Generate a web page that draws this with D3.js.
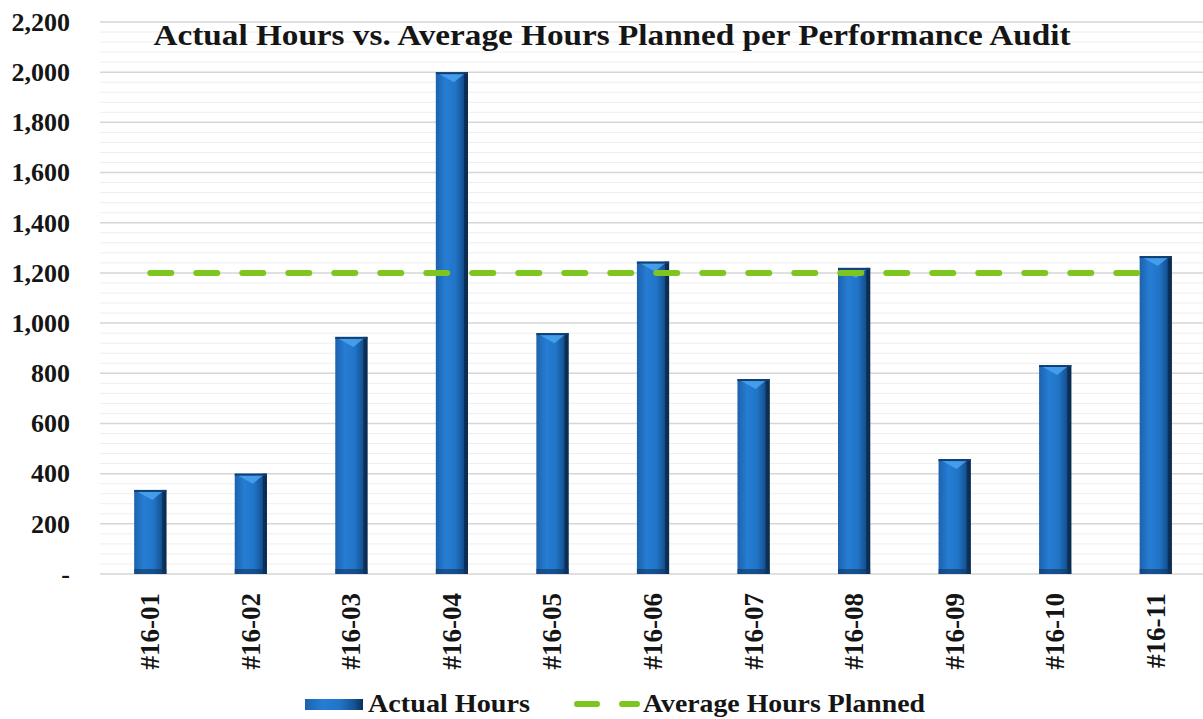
<!DOCTYPE html>
<html>
<head>
<meta charset="utf-8">
<script src="https://cdnjs.cloudflare.com/ajax/libs/d3/7.8.5/d3.min.js"></script>
<style>
  body { margin: 0; background: #fff; }
  text { font-family: "Liberation Serif", "DejaVu Serif Condensed", "DejaVu Serif", serif; font-weight: bold; fill: #151515; }
</style>
</head>
<body>
<script>
var categories = ["#16-01", "#16-02", "#16-03", "#16-04", "#16-05", "#16-06",
                  "#16-07", "#16-08", "#16-09", "#16-10", "#16-11"];
var actualHours = [335, 400, 945, 2000, 960, 1245, 777, 1220, 458, 833, 1267];
var averagePlanned = [1200, 1200, 1200, 1200, 1200, 1200, 1200, 1200, 1200, 1200, 1200];
var yTicks = [0, 200, 400, 600, 800, 1000, 1200, 1400, 1600, 1800, 2000, 2200];

var width = 1203, height = 719;
var margin = {top: 22, left: 100, right: -3, bottom: 145};
var plotW = width - margin.left - margin.right;
var plotH = height - margin.top - margin.bottom;

var svg = d3.select("body").append("svg")
            .attr("width", width)
            .attr("height", height);

var defs = svg.append("defs");
var grad = defs.append("linearGradient").attr("id", "barGrad")
               .attr("x1", "0%").attr("x2", "100%").attr("y1", "0%").attr("y2", "0%");
grad.append("stop").attr("offset", "0%").attr("stop-color", "#1c62ad");
grad.append("stop").attr("offset", "30%").attr("stop-color", "#267dd3");
grad.append("stop").attr("offset", "60%").attr("stop-color", "#2175c8");
grad.append("stop").attr("offset", "85%").attr("stop-color", "#155394");
grad.append("stop").attr("offset", "100%").attr("stop-color", "#0a2f57");

var g = svg.append("g").attr("transform", "translate(" + margin.left + "," + margin.top + ")");

var x = d3.scaleBand().domain(categories).range([0, plotW]).paddingInner(0.68).paddingOuter(0.34);
var y = d3.scaleLinear().domain([0, 2200]).range([plotH, 0]);

// minor gridlines every 40
var minor = d3.range(0, 2200, 40).filter(function(v) { return v % 200 !== 0; });
g.selectAll("line.minor").data(minor).enter().append("line")
  .attr("class", "minor")
  .attr("x1", 0).attr("x2", plotW)
  .attr("y1", function(d) { return y(d); }).attr("y2", function(d) { return y(d); })
  .attr("stroke", "#eeeeee").attr("stroke-width", 1);

g.selectAll("line.major").data(yTicks).enter().append("line")
  .attr("class", "major")
  .attr("x1", 0).attr("x2", plotW)
  .attr("y1", function(d) { return y(d); }).attr("y2", function(d) { return y(d); })
  .attr("stroke", "#d6d6d6").attr("stroke-width", 1.5);

// y axis labels
var fmt = d3.format(",");
var yAxis = d3.axisLeft(y).tickValues(yTicks).tickSize(0).tickPadding(30)
              .tickFormat(function(d) { return d === 0 ? "-" : fmt(d); });
var ya = g.append("g").call(yAxis);
ya.select(".domain").remove();
ya.attr("font-family", null);
ya.selectAll("text").style("font-size", "26px").attr("fill", "#151515").attr("dy", "0.32em");

// bars
var bars = g.selectAll("g.bar").data(categories).enter().append("g").attr("class", "bar");
bars.append("rect")
  .attr("x", function(d) { return x(d); })
  .attr("y", function(d, i) { return y(actualHours[i]); })
  .attr("width", x.bandwidth())
  .attr("height", function(d, i) { return plotH - y(actualHours[i]); })
  .attr("fill", "url(#barGrad)");
// right dark edge
bars.append("rect")
  .attr("x", function(d) { return x(d) + x.bandwidth() - 4; })
  .attr("y", function(d, i) { return y(actualHours[i]); })
  .attr("width", 4)
  .attr("height", function(d, i) { return plotH - y(actualHours[i]); })
  .attr("fill", "#0b2a4d").attr("opacity", 0.8);
// top bevel
bars.append("path")
  .attr("d", function(d, i) {
    var x0 = x(d), w = x.bandwidth(), t = y(actualHours[i]);
    return "M" + (x0 + 2) + "," + (t + 1) + "L" + (x0 + w - 3) + "," + (t + 1) +
           "L" + (x0 + w / 2 + 2) + "," + (t + 10) + "Z";
  })
  .attr("fill", "#4aa3f0").attr("opacity", 0.85);
bars.append("rect")
  .attr("x", function(d) { return x(d); })
  .attr("y", function(d, i) { return y(actualHours[i]); })
  .attr("width", x.bandwidth()).attr("height", 2)
  .attr("fill", "#0f3f75");
// bottom shading
bars.append("rect")
  .attr("x", function(d) { return x(d); })
  .attr("y", plotH - 5)
  .attr("width", x.bandwidth()).attr("height", 5)
  .attr("fill", "#0d3766").attr("opacity", 0.6);

// average line
var line = d3.line()
  .x(function(d, i) { return x(categories[i]) + x.bandwidth() / 2; })
  .y(function(d) { return y(d); });
g.append("path").datum(averagePlanned)
  .attr("d", line)
  .attr("fill", "none")
  .attr("stroke", "#7ec51f")
  .attr("stroke-width", 6)
  .attr("stroke-linecap", "round")
  .attr("stroke-dasharray", "21,25");

// x labels
g.selectAll("text.xl").data(categories).enter().append("text")
  .attr("class", "xl")
  .attr("transform", function(d) {
    return "translate(" + (x(d) + x.bandwidth() / 2 + 9) + "," + (plotH + 19) + ") rotate(-90)";
  })
  .attr("text-anchor", "end")
  .style("font-size", "27px")
  .text(function(d) { return d; });

// title
svg.append("text")
  .attr("x", 612).attr("y", 45)
  .attr("text-anchor", "middle")
  .style("font-size", "30px")
  .attr("textLength", 917).attr("lengthAdjust", "spacingAndGlyphs")
  .text("Actual Hours vs. Average Hours Planned per Performance Audit");

// legend
var lg = svg.append("g").attr("transform", "translate(305,704)");
lg.append("rect").attr("x", 0).attr("y", -5).attr("width", 58).attr("height", 11).attr("fill", "url(#barGrad)");
lg.append("text").attr("x", 63).attr("y", 8).style("font-size", "26px")
  .attr("textLength", 162).attr("lengthAdjust", "spacingAndGlyphs").text("Actual Hours");
lg.append("line").attr("x1", 272).attr("x2", 332).attr("y1", 0).attr("y2", 0)
  .attr("stroke", "#7ec51f").attr("stroke-width", 6).attr("stroke-linecap", "round")
  .attr("stroke-dasharray", "20,25");
lg.append("text").attr("x", 338).attr("y", 8).style("font-size", "26px")
  .attr("textLength", 282).attr("lengthAdjust", "spacingAndGlyphs").text("Average Hours Planned");
</script>
</body>
</html>
